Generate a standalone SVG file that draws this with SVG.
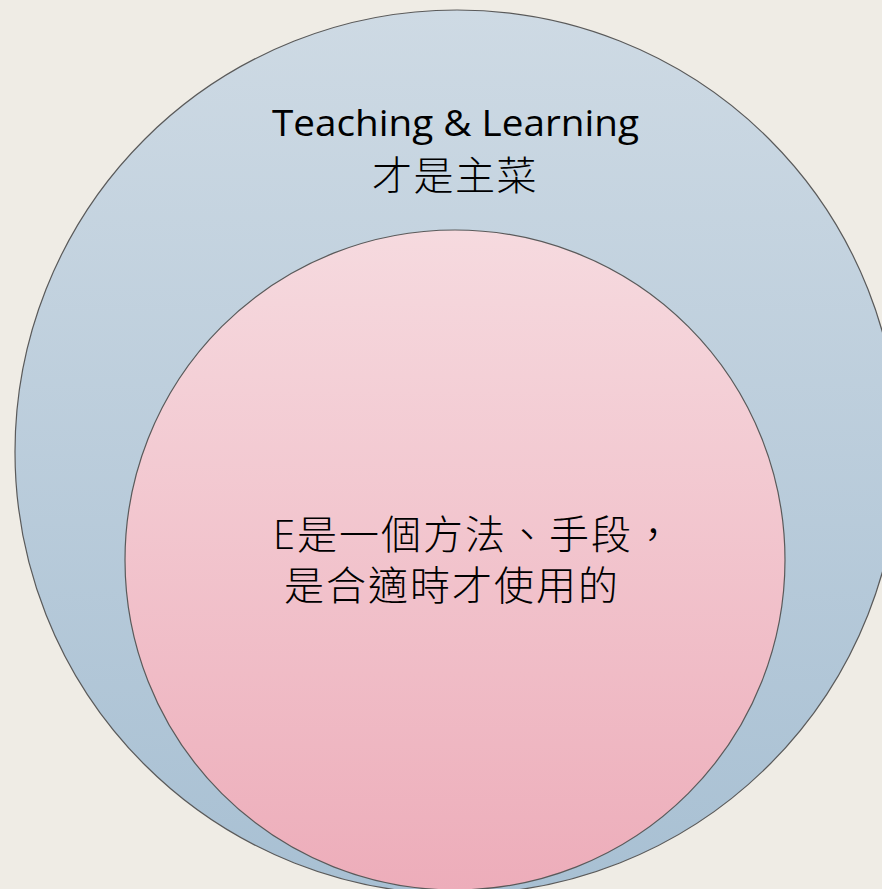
<svg xmlns="http://www.w3.org/2000/svg" width="882" height="889" viewBox="0 0 882 889">
  <style>
    .circ { stroke: #5a5a5a; stroke-width: 1.2; }
    .lat { font-family: "Open Sans", "Noto Sans CJK TC", sans-serif; fill: #000; }
    .cjk { font-family: "Noto Sans CJK TC", "Noto Sans", sans-serif; font-weight: 300; fill: #000; }
  </style>
  <defs>
    <linearGradient id="gBlue" x1="0" y1="0" x2="0" y2="1">
      <stop offset="0" stop-color="#CEDAE4"/>
      <stop offset="1" stop-color="#A8C0D3"/>
    </linearGradient>
    <linearGradient id="gPink" x1="0" y1="0" x2="0" y2="1">
      <stop offset="0" stop-color="#F6DADF"/>
      <stop offset="1" stop-color="#EDADBA"/>
    </linearGradient>
  </defs>
  <rect x="0" y="0" width="882" height="889" fill="#EFECE5"/>
  <g id="outer">
    <circle class="circ" cx="457" cy="452" r="442" fill="url(#gBlue)"/>
    <text class="lat" x="272" y="136" font-size="36" textLength="367" lengthAdjust="spacingAndGlyphs">Teaching &amp; Learning</text>
    <text class="cjk" x="455" y="190" font-size="40" letter-spacing="1.5" text-anchor="middle">才是主菜</text>
  </g>
  <g id="inner">
    <circle class="circ" cx="455" cy="560" r="330" fill="url(#gPink)"/>
    <text class="cjk" x="273" y="549" font-size="40" letter-spacing="2"><tspan class="lat">E</tspan>是一個方法、手段，</text>
    <text class="cjk" x="284" y="600" font-size="40" letter-spacing="2">是合適時才使用的</text>
  </g>
  <g id="connectors"/>
</svg>
